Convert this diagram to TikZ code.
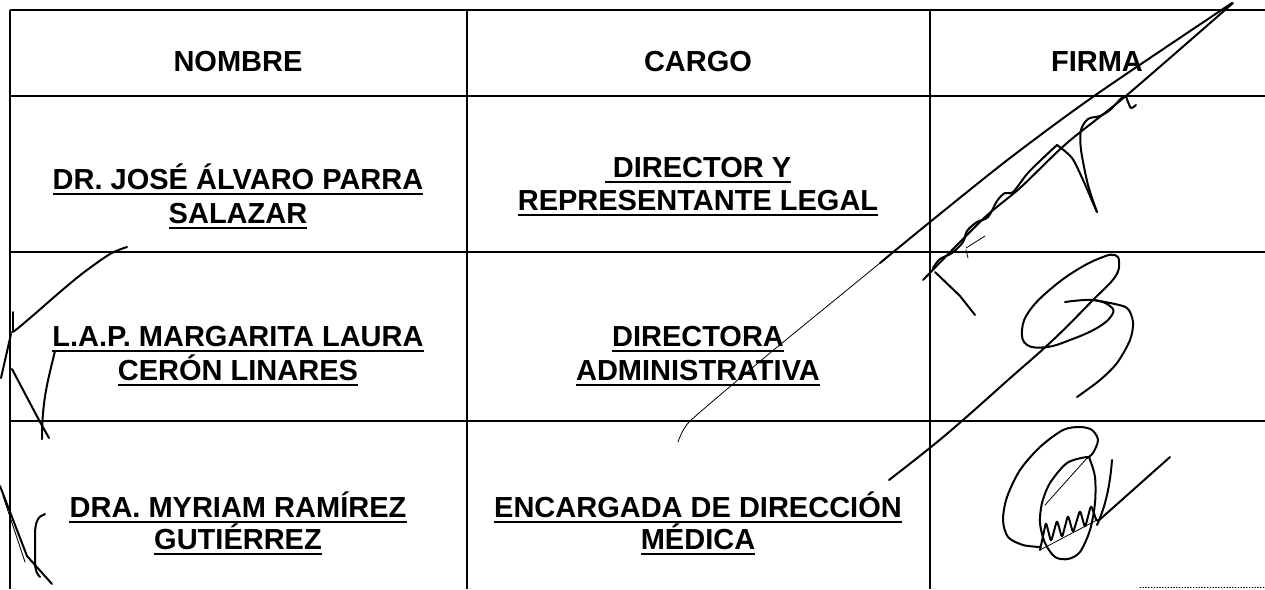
\documentclass[tikz,border=0pt]{standalone}
\usepackage{fontspec}
\setmainfont{Liberation Sans}
\usepackage{tikz}
\tikzset{
    GL/.style ={line width=1.4pt},
    TX/.style ={inner sep=0pt, anchor=base, font=\fontsize{29}{33}\selectfont\bfseries},
    UL/.style ={line width=2.4pt},
    SG/.style ={line width=2pt, line cap=round, line join=round},
    SGT/.style ={line width=0.8pt, line cap=round}}
\newcommand{\undl}[1]{\draw[UL] ([yshift=-4.8pt]#1.base west) -- ([yshift=-4.8pt]#1.base east);}

\begin{document}
\begin{tikzpicture}[x=1pt, y=-1pt]
        \useasboundingbox (0,0) rectangle (1265,589);
        \draw[GL] (10,10) -- (1265,10);
        \draw[GL] (10,96) -- (1265,96);
        \draw[GL] (10,252) -- (1265,252);
        \draw[GL] (10,421) -- (1265,421);
        \draw[GL] (10,10) -- (10,589);
        \draw[GL] (467,10) -- (467,589);
        \draw[GL] (930,10) -- (930,589);
        \draw[SGT, dotted] (1140,587) -- (1265,587);

        \node[TX] (nom) at (238,71) {NOMBRE};
        \node[TX] (car) at (698,71) {CARGO};
        \node[TX] (fir) at (1097,71) {FIRMA};
        \node[TX] (n2a) at (238,189) {DR. JOSÉ ÁLVARO PARRA};
        \node[TX] (n2b) at (238,223) {SALAZAR};
        \node[TX] (c2a) at (698,177) {\phantom{I}DIRECTOR Y};
        \node[TX] (c2b) at (698,210) {REPRESENTANTE LEGAL};
        \node[TX] (n3a) at (238,346) {L.A.P. MARGARITA LAURA};
        \node[TX] (n3b) at (238,380) {CERÓN LINARES};
        \node[TX] (c3a) at (698,346) {DIRECTORA};
        \node[TX] (c3b) at (698,380) {ADMINISTRATIVA};
        \node[TX] (n4a) at (238,517) {DRA. MYRIAM RAMÍREZ};
        \node[TX] (n4b) at (238,549) {GUTIÉRREZ};
        \node[TX] (c4a) at (698,517) {ENCARGADA DE DIRECCIÓN};
        \node[TX] (c4b) at (698,549) {MÉDICA};
        \undl{n2a} \undl{n2b} \undl{c2a} \undl{c2b}
        \undl{n3a} \undl{n3b} \undl{c3a} \undl{c3b}
        \undl{n4a} \undl{n4b} \undl{c4a} \undl{c4b}

        \draw[SG] plot[smooth] coordinates {(1232,3) (1097,94) (1010,158) (930,222) (880,263)};
        \draw[SGT] plot[smooth, tension=0.3] coordinates {(880,263) (847,290) (770,353) (690,421) (678,442)};
        \draw[SG] plot[smooth] coordinates {(1233,3) (1127,95) (1067,143) (1020,188) (983,219) (923,280)};
        \draw[SG] plot[smooth, tension=0.6] coordinates {(933,268) (940,259) (952,253) (963,242) (967,231) (977,222) (988,217) (997,201) (1005,193) (1013,192) (1027,174) (1042,159) (1057,145)};
        \draw[SG] plot[smooth] coordinates {(1057,145) (1072,158) (1083,180) (1093,203) (1097,212)};
        \draw[SG] plot[smooth] coordinates {(1097,212) (1088,185) (1081,150) (1081,130) (1088,119) (1100,116) (1110,110) (1124,96) (1128,102) (1131,108) (1136,105)};
        \draw[SGT] (966,248) -- (985,236);
        \draw[SGT] (966,250) -- (968,258);
        \draw[SG] (935,272) -- (960,296) -- (975,315);

        \draw[SG] plot[smooth, tension=0.7] coordinates {(1065,302) (1093,300) (1110,306) (1112,315) (1097,328) (1070,340) (1047,347) (1027,345) (1022,330) (1030,310) (1053,287) (1080,268) (1103,257) (1115,255) (1119,262) (1115,277) (1093,300) (1053,340) (1008,380) (963,420) (931,447) (889,480)};
        \draw[SG] plot[smooth] coordinates {(1093,300) (1110,303) (1127,308) (1133,322) (1130,340) (1117,363) (1100,380) (1077,397)};

        \draw[SG] plot[smooth] coordinates {(1040,547) (1023,545) (1008,537) (1003,520) (1007,497) (1020,470) (1040,447) (1063,430) (1080,427) (1092,430) (1098,440) (1093,453) (1087,458)};
        \draw[SG] plot[smooth cycle] coordinates {(1087,457) (1067,463) (1050,483) (1042,503) (1040,523) (1045,543) (1055,557) (1068,559) (1080,552) (1090,530) (1095,503) (1095,477) (1090,460)};
        \draw[SG, rounded corners=3pt] (1040,550) -- (1046,522) -- (1051,542) -- (1057,520) -- (1062,538) -- (1068,515) -- (1073,533) -- (1080,510) -- (1085,528) -- (1091,505) -- (1097,522) -- (1170,457);
        \draw[SG] (1112,460) .. controls (1110,485) and (1106,505) .. (1097,525);
        \draw[SGT] (1045,505) -- (1088,457);
        \draw[SGT] (1040,550) -- (1097,520);

        \draw[SG] plot[smooth] coordinates {(127,247) (110,254) (83,273) (60,292) (37,312) (17,329) (12,332)};
        \draw[SG] (13,312) -- (13,330);
        \draw[SG] (11,334) -- (1,378);
        \draw[SG] (12,369) -- (40,422) -- (49,438);
        \draw[SG] (55,351) .. controls (48,380) and (42,400) .. (42,439);
        \draw[SG] (0,486) -- (27,556) -- (52,584);
        \draw[SGT] (3,496) -- (25,562);
        \draw[SG] (45,514) .. controls (38,516) and (35,522) .. (35,535) -- (35,562) .. controls (35,570) and (37,574) .. (40,577);
\end{tikzpicture}
\end{document}
